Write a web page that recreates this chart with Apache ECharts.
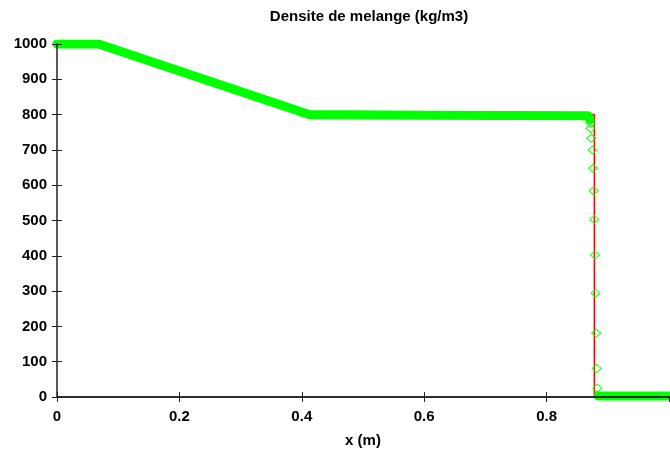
<!DOCTYPE html>
<html>
<head>
<meta charset="utf-8">
<script src="https://cdn.jsdelivr.net/npm/echarts@6/dist/echarts.min.js"></script>
<style>
  html, body { margin: 0; padding: 0; background: #fff; }
</style>
</head>
<body>
<div id="main" style="width: 670px; height: 455px"></div>
<script>
// solution exacte (rouge)
const exactX = [0, 0.068, 0.412, 0.878, 0.878, 1.0]
const exactY = [1000, 1000, 800, 800, 0, 0]
// solution numerique : partie continue (bande verte)
const numX = [0, 0.068, 0.412, 0.6, 0.868, 0.871]
const numY = [1000, 1000, 800, 798, 797, 785]
// choc : points isoles
const shockX = [0.872, 0.872, 0.873, 0.875, 0.876, 0.877, 0.878, 0.879, 0.880, 0.881, 0.882, 0.883]
const shockY = [775, 761, 733, 700, 648, 584, 503, 402, 294, 181, 81, 25]
// apres le choc
const tailX = [0.884, 1.0]
const tailY = [3, 3]

const yTicks = [0, 100, 200, 300, 400, 500, 600, 700, 800, 900, 1000]

const zip = (xs, ys) => xs.map((x, i) => [x, ys[i]])

const main = document.getElementById('main')
const myChart = echarts.init(main)

const font = { fontFamily: 'Liberation Sans, Arial, sans-serif', fontWeight: 'bold', color: '#000' }
const lineStyle = { color: '#222', width: 1.5 }

const option = {
  animation: false,
  title: {
    text: 'Densite de melange (kg/m3)',
    left: 364,
    textAlign: 'center',
    top: 4,
    textStyle: { ...font, fontSize: 15 }
  },
  grid: { left: 57, right: 1, top: 44, bottom: 58 },
  xAxis: [
    {
      type: 'value', min: 0, max: 1, interval: 0.2,
      name: 'x (m)', nameLocation: 'middle', nameGap: 36,
      nameTextStyle: { ...font, fontSize: 15 },
      axisLine: { lineStyle }, z: 5,
      axisTick: { inside: true, length: 5, lineStyle: { color: '#222' } },
      axisLabel: { ...font, fontSize: 15, margin: 12, showMaxLabel: false },
      splitLine: { show: false }
    },
    {
      type: 'value', position: 'top', min: 0, max: 1, interval: 0.2,
      axisLine: { lineStyle }, z: 5,
      axisTick: { inside: true, length: 5, lineStyle: { color: '#222' } },
      axisLabel: { show: false },
      splitLine: { show: false }
    }
  ],
  yAxis: [
    {
      type: 'value', min: yTicks[0], max: yTicks[yTicks.length - 1], interval: 100,
      axisLine: { show: true, lineStyle }, z: 5,
      axisTick: { show: true, inside: true, length: 5, lineStyle: { color: '#222' } },
      axisLabel: { ...font, fontSize: 15, margin: 10, formatter: v => String(v) },
      splitLine: { show: false }
    },
    {
      type: 'value', position: 'right', min: 0, max: 1000, interval: 100,
      axisLine: { show: false }, z: 5,
      axisTick: { show: true, inside: true, length: 5, lineStyle: { color: '#222' } },
      axisLabel: { show: false },
      splitLine: { show: false }
    }
  ],
  series: [
    {
      name: 'exacte',
      type: 'line',
      data: zip(exactX, exactY),
      showSymbol: false,
      lineStyle: { color: '#ff0000', width: 1.5 },
      z: 2
    },
    {
      name: 'numerique',
      type: 'line',
      data: zip(numX, numY),
      showSymbol: false,
      lineStyle: { color: '#00ff00', width: 9, cap: 'round', join: 'round' },
      z: 3
    },
    {
      name: 'choc',
      type: 'scatter',
      data: zip(shockX, shockY),
      symbol: 'diamond',
      symbolSize: [9, 8],
      itemStyle: { color: 'none', borderColor: '#00ff00', borderWidth: 1.2 },
      z: 4
    },
    {
      name: 'aval',
      type: 'line',
      data: zip(tailX, tailY),
      showSymbol: false,
      lineStyle: { color: '#00ff00', width: 9, cap: 'round' },
      z: 3
    }
  ]
}

myChart.setOption(option)
</script>
</body>
</html>
